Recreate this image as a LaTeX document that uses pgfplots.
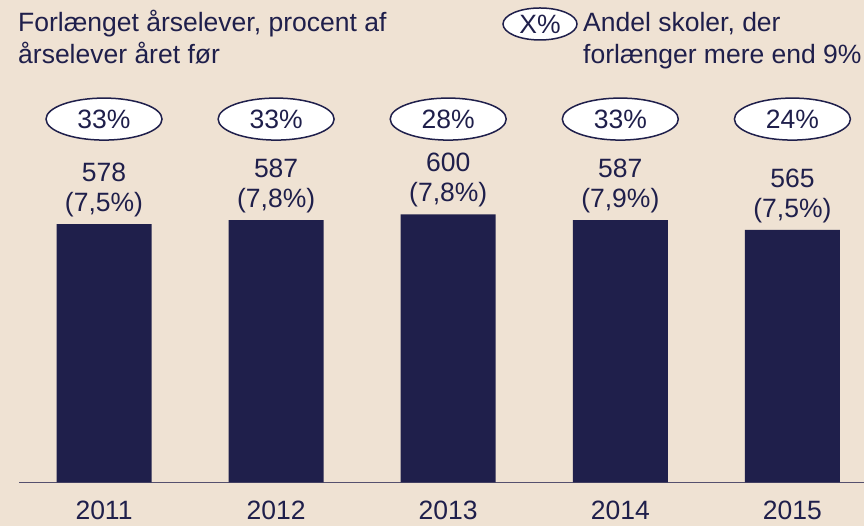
\documentclass[border=0pt]{standalone}
\usepackage{pgfplots}
\pgfplotsset{compat=1.18}
\usepackage{pgfplotstable}
\usetikzlibrary{shapes.geometric}
\usepackage{fontspec}
\setmainfont{Liberation Sans}
\definecolor{navy}{RGB}{31,31,75}
\definecolor{bg}{RGB}{239,226,211}
\definecolor{axisline}{RGB}{85,80,110}
\pgfplotstableread{
x val pct share
0 578 7,5 33
1 587 7,8 33
2 600 7,8 28
3 587 7,9 33
4 565 7,5 24
}\datatable
\begin{document}
\begin{tikzpicture}[x=1pt,y=1pt]
\newcommand{\lbl}{\fontsize{26.5}{32}\selectfont}
\path[use as bounding box, fill=bg] (0,0) rectangle (864,526);
\node[anchor=base west, inner sep=0, text=navy, font=\lbl] at (18,494) {Forlænget årselever, procent af};
\node[anchor=base west, inner sep=0, text=navy, font=\lbl] at (18,462) {årselever året før};
\node[ellipse, draw=navy, line width=1.5pt, fill=white, minimum width=74pt, minimum height=32pt, inner sep=0, text=navy, font=\lbl] at (540,502) {X\%};
\node[anchor=base west, inner sep=0, text=navy, font=\lbl] at (583,494) {Andel skoler, der};
\node[anchor=base west, inner sep=0, text=navy, font=\lbl] at (583,462) {forlænger mere end 9\%};
\begin{axis}[
  at={(19pt,43.5pt)}, anchor=south west,
  scale only axis, width=845pt, height=447pt,
  xmin=-0.494, xmax=4.416, ymin=0, ymax=1000,
  axis x line*=bottom, axis y line=none,
  axis line style={-, draw=axisline, line width=1.6pt},
  xtick=data, xticklabels={2011,2012,2013,2014,2015},
  major tick length=0pt,
  xticklabel style={anchor=base, yshift=-37.5pt, text=navy, font=\lbl},
  ytick=\empty,
  clip=false,
]
\addplot[ybar, bar width=95pt, fill=navy, draw=none] table[x=x, y=val] {\datatable};
\pgfplotsinvokeforeach{0,...,4}{
  \pgfplotstablegetelem{#1}{val}\of\datatable \let\v\pgfplotsretval
  \pgfplotstablegetelem{#1}{pct}\of\datatable \let\p\pgfplotsretval
  \pgfplotstablegetelem{#1}{share}\of\datatable \let\s\pgfplotsretval
  \edef\temp{\noexpand\node[anchor=base, inner sep=0, text=navy, font=\noexpand\lbl, yshift=12.8pt] at (axis cs:#1,\v) {(\p\noexpand\%)};
  \noexpand\node[anchor=base, inner sep=0, text=navy, font=\noexpand\lbl, yshift=42.8pt] at (axis cs:#1,\v) {\v};
  \noexpand\node[ellipse, draw=navy, line width=1.5pt, fill=white, minimum width=116pt, minimum height=42pt, inner sep=0, text=navy, font=\noexpand\lbl] at (axis cs:#1,813) {\s\noexpand\%};}
  \temp
}
\end{axis}
\end{tikzpicture}
\end{document}
